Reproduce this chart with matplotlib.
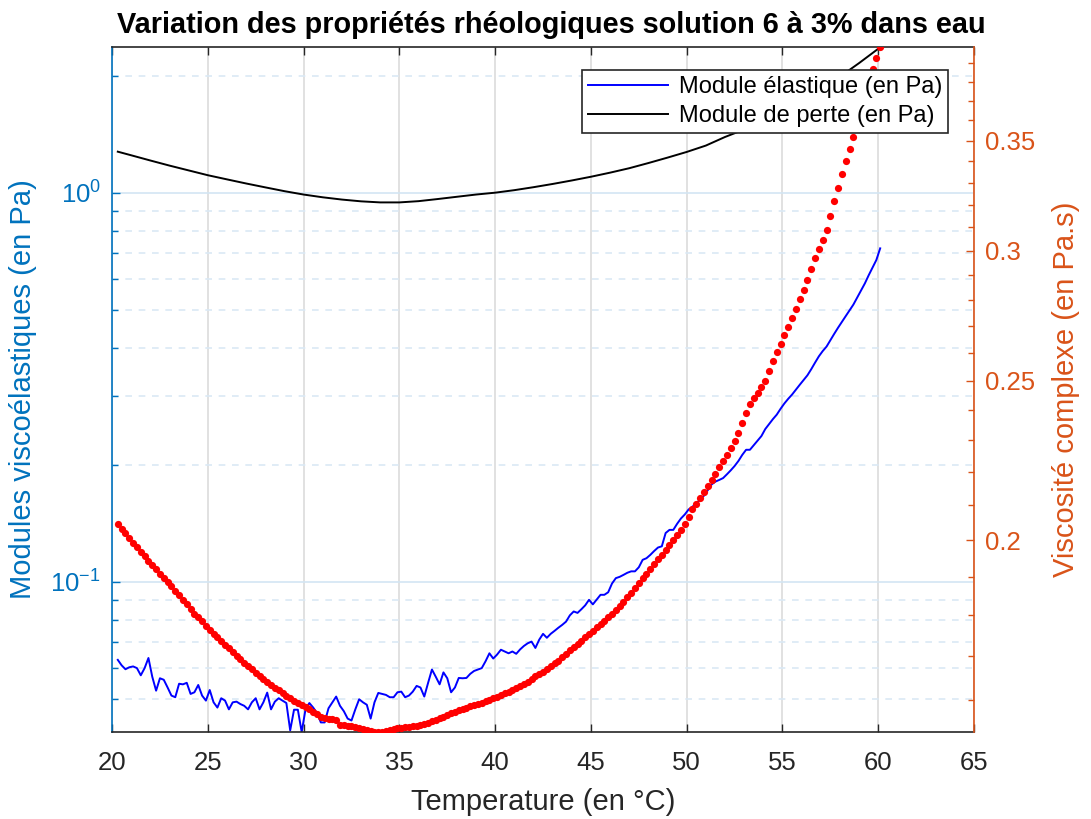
import numpy as np
import matplotlib
matplotlib.use('Agg')
import matplotlib.pyplot as plt
from matplotlib.ticker import FixedLocator, FixedFormatter, NullFormatter, LogLocator

plt.rcParams['font.family'] = ['Liberation Sans', 'DejaVu Sans']
plt.rcParams['mathtext.fontset'] = 'custom'
plt.rcParams['mathtext.rm'] = 'Liberation Sans'

BLUE_AX = '#0072BD'
ORANGE_AX = '#D95319'
DARK = '#262626'

# temperature sweep, 0.2 degC steps
temp = np.linspace(20.3, 60.1, 200)

# storage modulus G' (Pa)
g_elastic = [
    0.0630, 0.0610, 0.0596, 0.0603, 0.0606, 0.0600, 0.0575, 0.0600, 0.0637, 0.0570,
    0.0525, 0.0565, 0.0560, 0.0535, 0.0510, 0.0505, 0.0547, 0.0545, 0.0550, 0.0515,
    0.0520, 0.0543, 0.0510, 0.0495, 0.0527, 0.0490, 0.0475, 0.0502, 0.0495, 0.0470,
    0.0490, 0.0492, 0.0485, 0.0480, 0.0470, 0.0490, 0.0502, 0.0470, 0.0490, 0.0519,
    0.0470, 0.0492, 0.0502, 0.0495, 0.0488, 0.0415, 0.0469, 0.0469, 0.0411, 0.0470,
    0.0488, 0.0475, 0.0460, 0.0435, 0.0435, 0.0473, 0.0490, 0.0507, 0.0480, 0.0465,
    0.0445, 0.0440, 0.0470, 0.0499, 0.0490, 0.0483, 0.0445, 0.0490, 0.0518, 0.0515,
    0.0512, 0.0505, 0.0505, 0.0520, 0.0522, 0.0505, 0.0510, 0.0522, 0.0540, 0.0535,
    0.0507, 0.0550, 0.0595, 0.0570, 0.0545, 0.0585, 0.0565, 0.0520, 0.0535, 0.0566,
    0.0565, 0.0566, 0.0580, 0.0590, 0.0595, 0.0600, 0.0625, 0.0655, 0.0635, 0.0650,
    0.0669, 0.0662, 0.0655, 0.0662, 0.0653, 0.0670, 0.0684, 0.0695, 0.0702, 0.0676,
    0.0710, 0.0735, 0.0718, 0.0735, 0.0748, 0.0762, 0.0775, 0.0790, 0.0820, 0.0839,
    0.0832, 0.0850, 0.0870, 0.0899, 0.0875, 0.0900, 0.0926, 0.0926, 0.0940, 0.0990,
    0.1022, 0.1030, 0.1042, 0.1055, 0.1064, 0.1064, 0.1090, 0.1139, 0.1150, 0.1173,
    0.1200, 0.1225, 0.1234, 0.1335, 0.1360, 0.1360, 0.1410, 0.1455, 0.1490, 0.1535,
    0.1560, 0.1590, 0.1627, 0.1665, 0.1720, 0.1780, 0.1810, 0.1828, 0.1848, 0.1890,
    0.1935, 0.1985, 0.2045, 0.2120, 0.2185, 0.2185, 0.2245, 0.2305, 0.2370, 0.2470,
    0.2545, 0.2620, 0.2690, 0.2785, 0.2875, 0.2955, 0.3030, 0.3120, 0.3210, 0.3300,
    0.3395, 0.3520, 0.3660, 0.3800, 0.3920, 0.4025, 0.4180, 0.4340, 0.4500, 0.4660,
    0.4820, 0.4990, 0.5160, 0.5380, 0.5610, 0.5850, 0.6140, 0.6420, 0.6720, 0.7200,
]

# complex viscosity (Pa.s)
viscosity = [
    0.2045, 0.2032, 0.2019, 0.2006, 0.1993, 0.1981, 0.1968, 0.1956, 0.1944, 0.1932,
    0.1921, 0.1909, 0.1898, 0.1887, 0.1876, 0.1864, 0.1852, 0.1840, 0.1828, 0.1816,
    0.1805, 0.1795, 0.1785, 0.1774, 0.1764, 0.1755, 0.1746, 0.1737, 0.1728, 0.1719,
    0.1710, 0.1701, 0.1693, 0.1685, 0.1677, 0.1669, 0.1661, 0.1654, 0.1647, 0.1640,
    0.1633, 0.1627, 0.1621, 0.1615, 0.1609, 0.1603, 0.1597, 0.1592, 0.1588, 0.1584,
    0.1579, 0.1573, 0.1567, 0.1562, 0.1560, 0.1558, 0.1557, 0.1555, 0.1545, 0.1544,
    0.1542, 0.1541, 0.1539, 0.1537, 0.1535, 0.1533, 0.1531, 0.1530, 0.1529, 0.1530,
    0.1531, 0.1533, 0.1535, 0.1537, 0.1538, 0.1539, 0.1540, 0.1542, 0.1543, 0.1545,
    0.1547, 0.1549, 0.1552, 0.1555, 0.1559, 0.1562, 0.1566, 0.1570, 0.1573, 0.1576,
    0.1580, 0.1582, 0.1585, 0.1587, 0.1590, 0.1593, 0.1597, 0.1600, 0.1603, 0.1606,
    0.1610, 0.1614, 0.1618, 0.1622, 0.1626, 0.1631, 0.1636, 0.1641, 0.1647, 0.1653,
    0.1659, 0.1664, 0.1670, 0.1676, 0.1683, 0.1690, 0.1698, 0.1706, 0.1714, 0.1722,
    0.1730, 0.1738, 0.1746, 0.1754, 0.1762, 0.1770, 0.1778, 0.1786, 0.1795, 0.1804,
    0.1814, 0.1824, 0.1834, 0.1846, 0.1858, 0.1870, 0.1883, 0.1896, 0.1909, 0.1922,
    0.1934, 0.1947, 0.1960, 0.1973, 0.1986, 0.2000, 0.2014, 0.2029, 0.2045, 0.2066,
    0.2088, 0.2105, 0.2122, 0.2139, 0.2157, 0.2176, 0.2195, 0.2215, 0.2235, 0.2255,
    0.2276, 0.2297, 0.2325, 0.2356, 0.2390, 0.2420, 0.2440, 0.2458, 0.2478, 0.2500,
    0.2536, 0.2572, 0.2605, 0.2634, 0.2665, 0.2697, 0.2729, 0.2766, 0.2803, 0.2839,
    0.2880, 0.2925, 0.2970, 0.3008, 0.3046, 0.3090, 0.3150, 0.3215, 0.3277, 0.3338,
    0.3400, 0.3460, 0.3520, 0.3588, 0.3658, 0.3728, 0.3800, 0.3870, 0.3930, 0.3990,
]

# loss modulus G'' (Pa), smooth curve sampled every degree
temp_loss = [20.3, 21, 22, 23, 24, 25, 26, 27, 28, 29, 30, 31, 32, 33, 34, 35, 36, 37, 38, 39,
             40, 41, 42, 43, 44, 45, 46, 47, 48, 49, 50, 51, 52, 53, 54, 55, 56, 57, 58, 59,
             60, 60.1]
g_loss = [1.276, 1.249, 1.211, 1.175, 1.142, 1.110, 1.083, 1.057, 1.033, 1.010,
          0.990, 0.974, 0.961, 0.951, 0.945, 0.945, 0.952, 0.964, 0.977, 0.990,
          1.001, 1.016, 1.034, 1.054, 1.076, 1.100, 1.127, 1.157, 1.193, 1.232,
          1.274, 1.323, 1.392, 1.455, 1.531, 1.620, 1.724, 1.845, 1.989, 2.156,
          2.347, 2.371]

visc_ticks = [0.2, 0.25, 0.3, 0.35]
visc_minor = [0.16, 0.17, 0.18, 0.19, 0.21, 0.22, 0.23, 0.24, 0.26, 0.27, 0.28, 0.29,
              0.31, 0.32, 0.33, 0.34, 0.36, 0.37, 0.38, 0.39]

fig = plt.figure(figsize=(10.91, 8.19), dpi=100)
ax = fig.add_axes([0.1027, 0.1062, 0.7901, 0.8364])

ax.plot(temp, g_elastic, color='#0000FF', lw=1.4, label='Module élastique (en Pa)')
ax.plot(temp_loss, g_loss, color='black', lw=1.4, label='Module de perte (en Pa)')
ax.set_yscale('log')
ax.set_xlim(20, 65)
ax.set_ylim(min(g_elastic), max(g_loss))
ax.set_xticks(np.arange(20, 66, 5))

ax.set_axisbelow(True)
ax.grid(True, which='major', axis='x', color='#DCDCDC', lw=1.2)
ax.grid(True, which='major', axis='y', color='#D3E5F3', lw=1.2)
ax.grid(True, which='minor', axis='y', color='#DAE9F5', lw=1.2, ls=(0, (4, 4)))

ax.yaxis.set_major_locator(LogLocator(base=10))
ax.yaxis.set_minor_locator(LogLocator(base=10, subs=np.arange(2, 10)))
ax.yaxis.set_minor_formatter(NullFormatter())

ax.tick_params(axis='x', which='both', direction='in', top=True, length=6, width=1,
               colors=DARK, labelsize=18.5, pad=14)
ax.tick_params(axis='y', which='major', direction='in', length=6, width=1,
               colors=BLUE_AX, labelsize=18.5, pad=8)
ax.tick_params(axis='y', which='minor', direction='in', length=4, width=1, colors=BLUE_AX)

for side in ['top', 'bottom']:
    ax.spines[side].set_color(DARK)
    ax.spines[side].set_linewidth(1.2)
ax.spines['left'].set_color(BLUE_AX)
ax.spines['left'].set_linewidth(1.2)
ax.spines['right'].set_visible(False)

ax.set_xlabel('Temperature (en °C)', fontsize=21, color=DARK, labelpad=9)
ax.set_ylabel('Modules viscoélastiques (en Pa)', fontsize=21, color=BLUE_AX, labelpad=10)
ax.set_title('Variation des propriétés rhéologiques solution 6 à 3% dans eau',
             fontsize=20.8, fontweight='bold', color='black', pad=10, x=0.51)

# viscosity on the right axis
ax2 = ax.twinx()
ax2.plot(temp, viscosity, 'o', ms=5.2, color='red', mec='none')
ax2.set_yscale('log')
ax2.set_ylim(min(viscosity), max(viscosity))
ax2.yaxis.set_major_locator(FixedLocator(visc_ticks))
ax2.yaxis.set_major_formatter(FixedFormatter(['0.2', '0.25', '0.3', '0.35']))
ax2.yaxis.set_minor_locator(FixedLocator(visc_minor))
ax2.yaxis.set_minor_formatter(NullFormatter())
ax2.tick_params(axis='y', which='major', direction='in', length=6, width=1,
                colors=ORANGE_AX, labelsize=18.5, pad=8)
ax2.tick_params(axis='y', which='minor', direction='in', length=4, width=1, colors=ORANGE_AX)
for side in ['top', 'bottom', 'left']:
    ax2.spines[side].set_visible(False)
ax2.spines['right'].set_color(ORANGE_AX)
ax2.spines['right'].set_linewidth(1.2)
ax2.set_ylabel('Viscosité complexe (en Pa.s)', fontsize=21, color=ORANGE_AX, labelpad=12)

handles, labels = ax.get_legend_handles_labels()
leg = ax2.legend(handles, labels, loc='upper right', bbox_to_anchor=(0.970, 0.9664),
                 borderaxespad=0, fontsize=17, fancybox=False, framealpha=1,
                 edgecolor=DARK, handlelength=3.4, handletextpad=0.45,
                 labelspacing=0.3, borderpad=0.25)
leg.get_frame().set_linewidth(1.2)

fig.savefig('out.png', dpi=100)
